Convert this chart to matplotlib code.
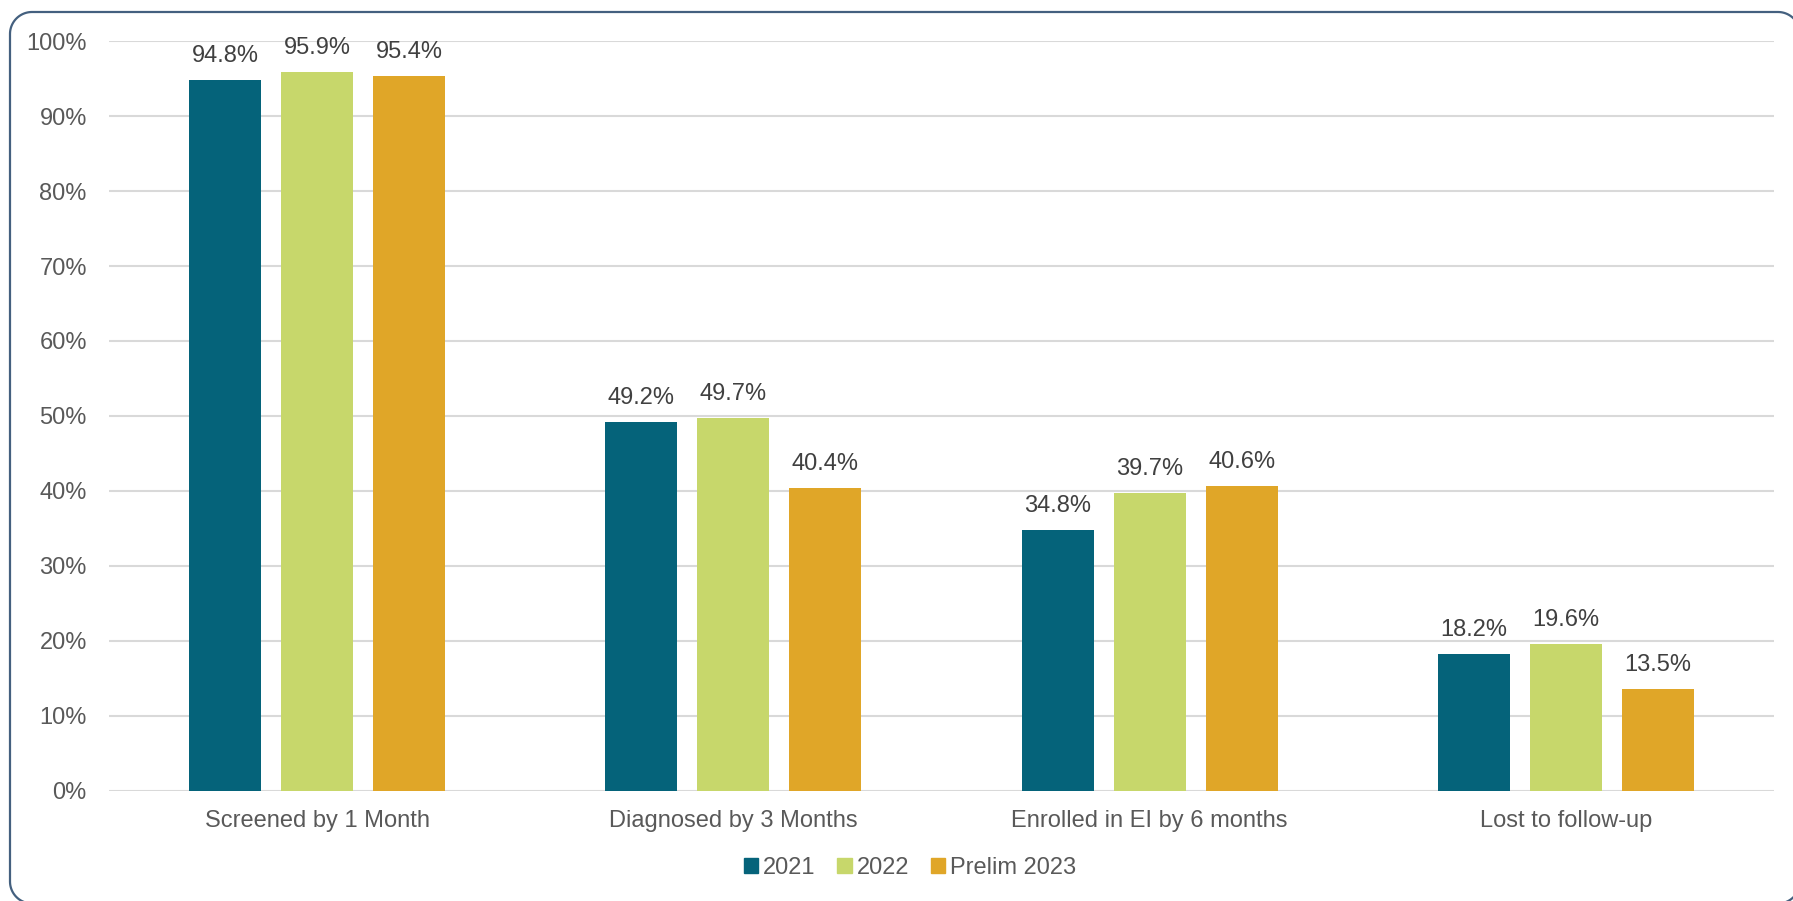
import matplotlib.pyplot as plt
import numpy as np
from matplotlib.patches import Rectangle

categories = ["Screened by 1 Month", "Diagnosed by 3 Months",
              "Enrolled in EI by 6 months", "Lost to follow-up"]
series_names = ["2021", "2022", "Prelim 2023"]
values_2021 = [94.8, 49.2, 34.8, 18.2]
values_2022 = [95.9, 49.7, 39.7, 19.6]
values_2023 = [95.4, 40.4, 40.6, 13.5]
y_ticks = [0, 10, 20, 30, 40, 50, 60, 70, 80, 90, 100]

colors = ["#05637a", "#c7d76b", "#e0a628"]
text_color = "#595959"

plt.rcParams["font.family"] = ["Liberation Sans", "DejaVu Sans"]

W, H, dpi = 1793, 901, 100


def rounded_outline(x0, y0, x1, y1, r, n=24):
    """Polyline of a rounded rectangle (pixel units, y up)."""
    corners = [(x1 - r, y1 - r, 0), (x0 + r, y1 - r, 90),
               (x0 + r, y0 + r, 180), (x1 - r, y0 + r, 270)]
    xs, ys = [], []
    for cx, cy, a0 in corners:
        t = np.radians(np.linspace(a0, a0 + 90, n))
        xs.extend(cx + r * np.cos(t))
        ys.extend(cy + r * np.sin(t))
    xs.append(xs[0])
    ys.append(ys[0])
    return xs, ys


fig = plt.figure(figsize=(W / dpi, H / dpi), dpi=dpi)
fig.patch.set_facecolor("white")

# background axes in pixel units for the rounded chart border
bg = fig.add_axes([0, 0, 1, 1], zorder=-1)
bg.set_xlim(0, W)
bg.set_ylim(0, H)
bg.set_axis_off()
bx, by = rounded_outline(10, -2.5, 1800, H - 12, 22)
bg.plot(bx, by, color="#44607f", linewidth=1.6)

ax = fig.add_axes([109 / W, 110.5 / H, (1774 - 109) / W, (859.7 - 110.5) / H])
ax.patch.set_alpha(0)
x = np.arange(len(categories))
bar_w = 0.173
step = 0.221
all_values = [values_2021, values_2022, values_2023]
for i, (vals, name) in enumerate(zip(all_values, series_names)):
    bars = ax.bar(x + (i - 1) * step, vals, width=bar_w, color=colors[i],
                  label=name, zorder=3)
    for b, v in zip(bars, vals):
        ax.annotate(f"{v:.1f}%", (b.get_x() + b.get_width() / 2, v),
                    xytext=(0, 13), textcoords="offset points",
                    ha="center", va="baseline", fontsize=17,
                    color="#404040")

ax.set_xlim(-0.5, len(categories) - 0.5)
ax.set_ylim(0, 100)
ax.set_yticks(y_ticks)
ax.set_yticklabels([f"{t}%" for t in y_ticks])
ax.set_xticks(x)
ax.set_xticklabels(categories)
ax.tick_params(axis="y", length=0, pad=16, labelsize=17, labelcolor=text_color)
ax.tick_params(axis="x", length=0, pad=14, labelsize=17, labelcolor=text_color)
ax.grid(axis="y", color="#d9d9d9", linewidth=1.5, zorder=0)
for s in ax.spines.values():
    s.set_visible(False)

handles = [Rectangle((0, 0), 1, 1, color=c) for c in colors]
fig.legend(handles, series_names, loc="center", bbox_to_anchor=(910 / W, 33 / H),
           ncol=3, frameon=False, fontsize=17, labelcolor=text_color,
           handlelength=0.6, handleheight=0.6, handletextpad=0.2,
           columnspacing=0.95)

fig.savefig("out.png", dpi=dpi)
